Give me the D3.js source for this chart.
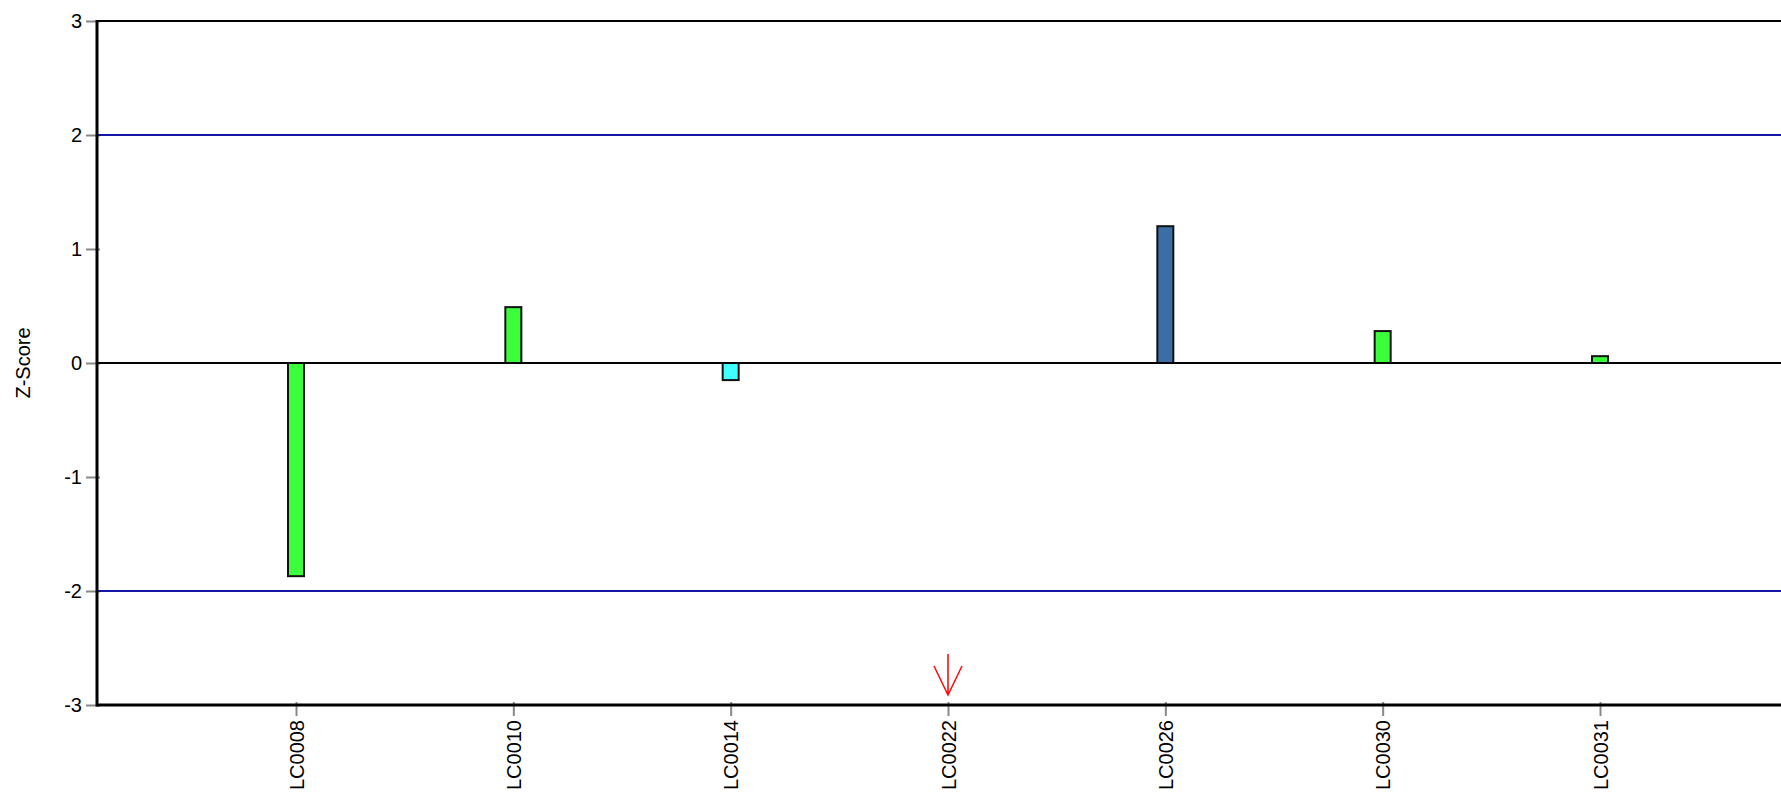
<!DOCTYPE html>
<html>
<head>
<meta charset="utf-8">
<script src="https://cdn.jsdelivr.net/npm/d3@7"></script>
<style>
  body { margin: 0; background: #fff; }
  text { font-family: "Liberation Sans", Arial, sans-serif; fill: #000; }
</style>
</head>
<body>
<div id="chart"></div>
<script>
(function () {
  // data
  const categories = ["LC0008", "LC0010", "LC0014", "LC0022", "LC0026", "LC0030", "LC0031"];
  const zScores = [-1.87, 0.49, -0.15, null, 1.2, 0.28, 0.06];
  const groups = ["a", "a", "b", null, "c", "a", "a"];
  const yTicks = [-3, -2, -1, 0, 1, 2, 3];
  const limits = [-2, 2];
  const markedCategory = "LC0022";

  const totalW = 1781;
  const totalH = 794;
  const margin = { top: 21, right: 0, bottom: 89, left: 97 };
  const width = totalW - margin.left - margin.right;
  const height = totalH - margin.top - margin.bottom;

  const svg = d3
    .select("#chart")
    .append("svg")
    .attr("width", totalW)
    .attr("height", totalH)
    .append("g")
    .attr("transform", `translate(${margin.left}, ${margin.top})`);

  const x = d3.scalePoint().domain(categories).range([199, 1503]);
  const y = d3.scaleLinear().domain([-3, 3]).range([height, 0]);
  const color = d3
    .scaleOrdinal()
    .domain(["a", "b", "c"])
    .range(["#3cff3c", "#40ffff", "#3a6ea5"]);

  // y axis ticks (plain hyphen for negatives, like the original)
  const yAxis = svg
    .append("g")
    .call(d3.axisLeft(y).tickValues(yTicks).tickSize(11).tickPadding(4).tickFormat((d) => String(d)));
  yAxis.select(".domain").remove();
  yAxis.selectAll(".tick line").attr("stroke", "#888").attr("stroke-width", 2).attr("x2", 3).attr("x1", -11);
  yAxis.selectAll(".tick text").style("font-size", "20px");

  // x axis ticks
  const xAxis = svg
    .append("g")
    .attr("transform", `translate(0, ${height})`)
    .call(d3.axisBottom(x).tickSize(11).tickPadding(4));
  xAxis.select(".domain").remove();
  xAxis.selectAll(".tick line").attr("stroke", "#888").attr("stroke-width", 2).attr("y1", -3);
  xAxis
    .selectAll(".tick text")
    .style("font-size", "20px")
    .attr("text-anchor", "end")
    .attr("transform", "rotate(-90)")
    .attr("x", -15)
    .attr("y", 0)
    .attr("dy", "0.35em");

  // top frame line
  svg.append("line")
    .attr("x1", 0).attr("x2", width)
    .attr("y1", y(3)).attr("y2", y(3))
    .attr("stroke", "#000").attr("stroke-width", 2);

  // +/-2 limit lines
  svg.selectAll("line.limit")
    .data(limits)
    .join("line")
    .attr("class", "limit")
    .attr("x1", 0).attr("x2", width)
    .attr("y1", (d) => y(d)).attr("y2", (d) => y(d))
    .attr("stroke", "#1414a8").attr("stroke-width", 2);

  // bars
  const barW = 16;
  const rows = categories.map((c, i) => ({ cat: c, value: zScores[i], group: groups[i] }))
    .filter((d) => d.value !== null);

  svg.selectAll("rect.bar")
    .data(rows)
    .join("rect")
    .attr("class", "bar")
    .attr("x", (d) => x(d.cat) - barW / 2)
    .attr("y", (d) => Math.min(y(d.value), y(0)))
    .attr("width", barW)
    .attr("height", (d) => Math.abs(y(d.value) - y(0)))
    .attr("fill", (d) => color(d.group))
    .attr("stroke", "#111")
    .attr("stroke-width", 2);

  // zero line
  svg.append("line")
    .attr("x1", 0).attr("x2", width)
    .attr("y1", y(0)).attr("y2", y(0))
    .attr("stroke", "#000").attr("stroke-width", 2);

  // axis lines
  svg.append("line")
    .attr("x1", 0).attr("x2", 0)
    .attr("y1", y(3) - 1).attr("y2", y(-3) + 1.5)
    .attr("stroke", "#000").attr("stroke-width", 3);
  svg.append("line")
    .attr("x1", 0).attr("x2", width)
    .attr("y1", y(-3)).attr("y2", y(-3))
    .attr("stroke", "#000").attr("stroke-width", 3);

  // red marker arrow at the selected category
  const mx = x(markedCategory);
  const tip = y(-3) - 10;
  svg.append("path")
    .attr("d", `M${mx},${tip - 41}L${mx},${tip}M${mx - 14},${tip - 29}L${mx},${tip}L${mx + 14},${tip - 29}`)
    .attr("fill", "none")
    .attr("stroke", "#ff1010")
    .attr("stroke-width", 1.6);

  // y label
  svg.append("text")
    .attr("transform", `translate(${-74}, ${y(0)}) rotate(-90)`)
    .attr("text-anchor", "middle")
    .attr("dy", "0.35em")
    .style("font-size", "20px")
    .text("Z-Score");
})();
</script>
</body>
</html>
